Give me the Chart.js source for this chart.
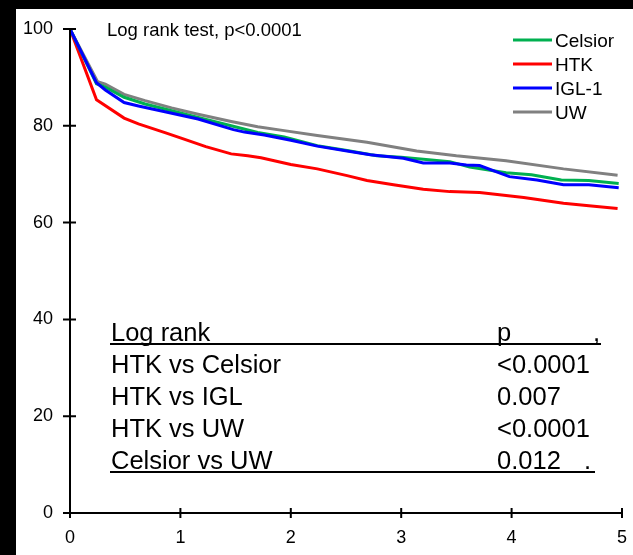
<!DOCTYPE html>
<html>
<head>
<meta charset="utf-8">
<script src="https://cdn.jsdelivr.net/npm/chart.js@4/dist/chart.umd.min.js"></script>
<style>
  html, body { margin: 0; padding: 0; background: #000; width: 633px; height: 555px; overflow: hidden; }
  #wrap { position: absolute; left: 16px; top: 9px; width: 617px; height: 546px; background: #fff; }
  canvas { display: block; }
</style>
</head>
<body>
<div id="wrap"><canvas id="c"></canvas></div>
<script>
// ---- data (years vs graft survival %) ----
const seriesNames = ["Celsior", "HTK", "IGL-1", "UW"];
const seriesColors = ["#00B050", "#FF0000", "#0000FF", "#808080"];

const celsiorT = [0, 0.24, 0.32, 0.49, 0.68, 0.92, 1.16, 1.46, 1.70, 1.94, 2.24, 2.51, 2.78, 3.0, 3.2, 3.44, 3.62, 3.95, 4.18, 4.45, 4.70, 4.97];
const celsiorV = [100, 88.7, 88.0, 85.9, 84.5, 83.1, 81.7, 80.0, 78.6, 77.7, 75.9, 74.9, 73.8, 73.5, 73.1, 72.6, 71.5, 70.3, 69.9, 68.8, 68.7, 68.1];

const htkT = [0, 0.24, 0.49, 0.62, 0.86, 1.0, 1.23, 1.46, 1.61, 1.73, 2.0, 2.24, 2.51, 2.69, 2.93, 3.2, 3.44, 3.71, 4.11, 4.47, 4.7, 4.96];
const htkV = [100, 85.4, 81.6, 80.4, 78.6, 77.5, 75.7, 74.2, 73.8, 73.4, 72.0, 71.1, 69.7, 68.7, 67.8, 66.9, 66.4, 66.2, 65.2, 64.0, 63.5, 62.9];

const iglT = [0, 0.24, 0.32, 0.49, 0.62, 0.86, 1.16, 1.48, 1.58, 1.76, 2.0, 2.24, 2.51, 2.72, 3.02, 3.2, 3.44, 3.59, 3.71, 3.98, 4.23, 4.47, 4.7, 4.97];
const iglV = [100, 88.9, 87.4, 84.8, 84.1, 82.9, 81.4, 79.2, 78.7, 78.1, 77.0, 75.8, 74.8, 74.0, 73.3, 72.3, 72.3, 71.9, 71.8, 69.5, 68.8, 67.8, 67.8, 67.2];

const uwT = [0, 0.25, 0.32, 0.49, 0.68, 0.92, 1.16, 1.46, 1.70, 1.94, 2.24, 2.69, 3.14, 3.5, 3.95, 4.47, 4.96];
const uwV = [100, 89.1, 88.6, 86.5, 85.2, 83.7, 82.4, 80.9, 79.8, 79.0, 78.0, 76.6, 74.8, 73.8, 72.8, 71.1, 69.8];

const xTicks = [0, 1, 2, 3, 4, 5];
const yTicks = [0, 20, 40, 60, 80, 100];

const titleText = "Log rank test, p<0.0001";
const tableHeader = ["Log rank", "p", ","];
const tableRows = ["HTK vs Celsior", "HTK vs IGL", "HTK vs UW", "Celsior vs UW"];
const tablePvals = ["<0.0001", "0.007", "<0.0001", "0.012"];

// ---- build ----
const FONT = '"Liberation Sans", Arial, sans-serif';
function pts(t, v) { return t.map((x, i) => ({ x: x, y: v[i] })); }
const allT = [celsiorT, htkT, iglT, uwT];
const allV = [celsiorV, htkV, iglV, uwV];
const drawOrder = [1, 3, 0, 2];

const datasets = seriesNames.map((n, i) => ({
  label: n,
  data: pts(allT[i], allV[i]),
  borderColor: seriesColors[i],
  backgroundColor: seriesColors[i],
  borderWidth: 3,
  pointRadius: 0,
  tension: 0,
  fill: false,
  order: drawOrder[i]
}));

const decor = {
  id: 'decor',
  afterDraw(chart) {
    const ctx = chart.ctx;
    const xs = chart.scales.x, ys = chart.scales.y;
    ctx.save();
    ctx.strokeStyle = '#000';
    ctx.lineWidth = 2;
    const x0 = xs.getPixelForValue(0), x5 = xs.getPixelForValue(5);
    const y0 = ys.getPixelForValue(0), y100 = ys.getPixelForValue(100);
    ctx.beginPath();
    ctx.moveTo(x0, y100); ctx.lineTo(x0, y0 + 1);
    ctx.moveTo(x0 - 1, y0); ctx.lineTo(x5 + 1, y0);
    yTicks.forEach(v => { const y = ys.getPixelForValue(v); ctx.moveTo(x0 - 7, y); ctx.lineTo(x0 + 6, y); });
    xTicks.forEach(v => { const x = xs.getPixelForValue(v); ctx.moveTo(x, y0 - 5); ctx.lineTo(x, y0 + 5); });
    ctx.stroke();

    // title
    ctx.fillStyle = '#000';
    ctx.textAlign = 'left';
    ctx.textBaseline = 'alphabetic';
    ctx.font = '18.5px ' + FONT;
    ctx.fillText(titleText, 91, 27);

    // legend
    ctx.font = '19px ' + FONT;
    const legY = [31, 55, 79, 103];
    seriesNames.forEach((n, i) => {
      ctx.strokeStyle = seriesColors[i];
      ctx.lineWidth = 3;
      ctx.beginPath();
      ctx.moveTo(497, legY[i]); ctx.lineTo(536, legY[i]);
      ctx.stroke();
      ctx.fillText(n, 539, legY[i] + 7);
    });

    // table
    ctx.font = '25.5px ' + FONT;
    const tx = 95, px = 481;
    ctx.fillText(tableHeader[0], tx, 332);
    ctx.fillText(tableHeader[1], px, 332);
    ctx.fillText(tableHeader[2], 577, 332);
    tableRows.forEach((r, i) => {
      const y = 364 + 32 * i;
      ctx.fillText(r, tx, y);
      ctx.fillText(tablePvals[i], px, y);
    });
    ctx.fillText('.', 568, 364 + 32 * 3);
    ctx.strokeStyle = '#000';
    ctx.lineWidth = 2;
    ctx.beginPath();
    ctx.moveTo(94, 335); ctx.lineTo(585, 335);
    ctx.moveTo(94, 463); ctx.lineTo(579, 463);
    ctx.stroke();
    ctx.restore();
  }
};

const hiddenGrid = (len) => ({ display: true, drawOnChartArea: false, drawTicks: true, tickLength: len, color: 'rgba(0,0,0,0)' });

new Chart(document.getElementById('c'), {
  type: 'line',
  data: { datasets: datasets },
  options: {
    responsive: true,
    maintainAspectRatio: false,
    animation: false,
    devicePixelRatio: 1,
    layout: { padding: { top: 20, right: 11, left: 0, bottom: 0 } },
    plugins: { legend: { display: false }, tooltip: { enabled: false }, title: { display: false } },
    scales: {
      x: {
        type: 'linear', min: 0, max: 5,
        afterFit(s) { s.height = 42; },
        afterBuildTicks(s) { s.ticks = xTicks.map(v => ({ value: v })); },
        grid: hiddenGrid(14),
        border: { display: false },
        ticks: { color: '#000', font: { family: FONT, size: 18 }, padding: 0, maxRotation: 0 }
      },
      y: {
        type: 'linear', min: 0, max: 100,
        afterFit(s) { s.width = 54; },
        afterBuildTicks(s) { s.ticks = yTicks.map(v => ({ value: v })); },
        grid: hiddenGrid(17),
        border: { display: false },
        ticks: { color: '#000', font: { family: FONT, size: 18 }, padding: 0 }
      }
    }
  },
  plugins: [decor]
});
</script>
</body>
</html>
